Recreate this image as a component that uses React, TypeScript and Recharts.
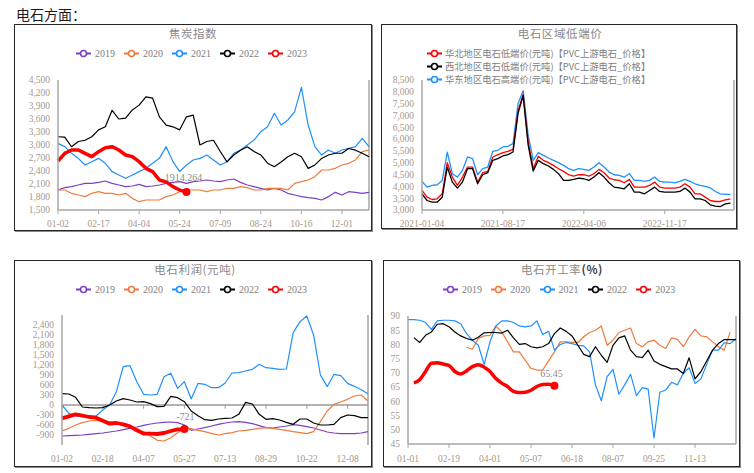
import React from "react";
import { LineChart, Line, XAxis, YAxis, ReferenceLine } from "recharts";

const serif = '"Liberation Serif", "Times New Roman", serif';
const cjk = '"Noto Sans CJK SC", "Noto Sans", sans-serif';
const tickColor = "#a8988a";
const axisColor = "#a6a6a6";
const textGrey = "#808080";

const purple = "#7d3fc4";
const orange = "#ee7b3c";
const blue = "#1e90ff";
const black = "#000000";
const red = "#ff0000";

const years = ["2019", "2020", "2021", "2022", "2023"];
const yearColors = [purple, orange, blue, black, red];

// 焦炭指数
const cokeDates = ["01-02", "02-17", "04-04", "05-24", "07-09", "08-24", "10-16", "12-01"];
const cokeYTicks = [1500, 1800, 2100, 2400, 2700, 3000, 3300, 3600, 3900, 4200, 4500];
const coke2019 = [1962, 2015, 2038, 2077, 2115, 2115, 2138, 2169, 2115, 2077, 2038, 2054, 2092, 2038, 2054, 2077, 2115, 2138, 2154, 2115, 2154, 2169, 2192, 2169, 2154, 2192, 2215, 2138, 2077, 2038, 2000, 1962, 2000, 1962, 1885, 1846, 1808, 1785, 1769, 1731, 1808, 1908, 1846, 1923, 1908, 1885, 1908];
const coke2020 = [1962, 1962, 1885, 1846, 1808, 1885, 1923, 1885, 1885, 1846, 1885, 1769, 1692, 1731, 1731, 1731, 1808, 1846, 1923, 1962, 1962, 1962, 1923, 1962, 1962, 2000, 2000, 2038, 2015, 1962, 1962, 2000, 2000, 2000, 1962, 2115, 2154, 2192, 2269, 2423, 2423, 2462, 2538, 2577, 2654, 2846, 2885];
const coke2021 = [3038, 2962, 2808, 2692, 2538, 2615, 2692, 2577, 2385, 2308, 2231, 2308, 2385, 2462, 2577, 2692, 2962, 2615, 2385, 2538, 2654, 2692, 2769, 2654, 2538, 2615, 2808, 2885, 3000, 3115, 3308, 3423, 3731, 3461, 3577, 3769, 4330, 3461, 2962, 2769, 2885, 2808, 2885, 2923, 2962, 3154, 2962];
const coke2022 = [3190, 3180, 2960, 3080, 3110, 3190, 3350, 3420, 3800, 3600, 3620, 3810, 3920, 4110, 4080, 3650, 3460, 3420, 3350, 3650, 3690, 3000, 3080, 3110, 2850, 2610, 2770, 2880, 2960, 2850, 2770, 2580, 2500, 2610, 2730, 2810, 2730, 2460, 2540, 2690, 2770, 2810, 2810, 2920, 2880, 2810, 2730];
const coke2023 = [2631, 2808, 2885, 2885, 2808, 2731, 2846, 2938, 2962, 2885, 2769, 2731, 2615, 2462, 2385, 2192, 2150, 2040, 1960, 1914.264];

// 电石区域低端价
const priceDates = ["2021-01-04", "2021-08-17", "2022-04-06", "2022-11-17"];
const priceYTicks = [3000, 3500, 4000, 4500, 5000, 5500, 6000, 6500, 7000, 7500, 8000, 8500];
const priceNames = [
  "华北地区电石低端价(元吨)【PVC上游电石_价格】",
  "西北地区电石低端价(元吨)【PVC上游电石_价格】",
  "华东地区电石高端价(元吨)【PVC上游电石_价格】",
];
const priceNorth = [3827, 3543, 3444, 3473, 3685, 5002, 4393, 4039, 4393, 4818, 4818, 4181, 4577, 4634, 5243, 5342, 5427, 5483, 5568, 7200, 7891, 5880, 4750, 5271, 5101, 5002, 4889, 4747, 4634, 4492, 4436, 4492, 4492, 4436, 4535, 4719, 4577, 4351, 4280, 4252, 4152, 4294, 3968, 3968, 3968, 4039, 4181, 3968, 3926, 3926, 3926, 3968, 4110, 3968, 3685, 3685, 3543, 3402, 3360, 3360, 3430, 3473];
const priceNorthwest = [3685, 3402, 3331, 3331, 3543, 4818, 4181, 3926, 4181, 4747, 4747, 4110, 4492, 4577, 5101, 5172, 5285, 5342, 5455, 7100, 7834, 5738, 4650, 5101, 4960, 4860, 4719, 4535, 4252, 4252, 4294, 4351, 4322, 4252, 4393, 4577, 4393, 4152, 3968, 3940, 3898, 4110, 3756, 3756, 3685, 3827, 3968, 3784, 3756, 3756, 3756, 3784, 3926, 3756, 3473, 3473, 3402, 3218, 3161, 3147, 3260, 3289];
const priceEastHigh = [4209, 3968, 4039, 4068, 4252, 5450, 4535, 4393, 4676, 5243, 5172, 4492, 4747, 4818, 5483, 5526, 5668, 5696, 5809, 7500, 8050, 6163, 5100, 5427, 5314, 5200, 5101, 5002, 4889, 4747, 4676, 4747, 4719, 4676, 4818, 5002, 4818, 4605, 4492, 4464, 4393, 4535, 4252, 4252, 4209, 4252, 4393, 4209, 4181, 4181, 4152, 4209, 4294, 4209, 4110, 4039, 3997, 3940, 3784, 3685, 3657, 3657];

// 电石利润(元吨)
const profitDates = ["01-02", "02-18", "04-07", "05-27", "07-13", "08-29", "10-22", "12-08"];
const profitYTicks = [-900, -600, -300, 0, 300, 600, 900, 1200, 1500, 1800, 2100, 2400];
const profit2019 = [-930, -920, -910, -900, -880, -860, -840, -810, -780, -740, -700, -660, -610, -570, -540, -520, -510, -530, -600, -760, -720, -680, -630, -580, -540, -510, -500, -520, -560, -620, -680, -690, -660, -630, -590, -610, -650, -690, -750, -810, -840, -860, -860, -860, -840, -800];
const profit2020 = [-780, -700, -600, -530, -480, -460, -480, -500, -530, -560, -630, -700, -800, -930, -1060, -1080, -980, -830, -700, -710, -760, -800, -860, -900, -860, -830, -780, -760, -730, -700, -680, -700, -730, -760, -800, -830, -860, -800, -500, -180, 20, 90, 170, 270, 300, 120];
const profit2021 = [0, -250, -330, -340, -340, -330, -150, 0, 400, 1150, 1180, 700, 320, 300, 320, 850, 950, 500, 700, 180, 650, 620, 520, 520, 660, 960, 970, 1020, 1070, 1220, 1120, 1100, 1070, 1080, 2170, 2500, 2670, 2100, 900, 550, 920, 880, 650, 560, 460, 340];
const profit2022 = [340, 330, 230, -60, -80, -90, -80, 0, 120, 190, 150, 90, 100, 40, -50, -40, 260, 220, 100, -180, -320, -440, -460, -420, -400, -390, -280, 80, 30, -280, -430, -410, -450, -520, -580, -420, -420, -540, -600, -600, -580, -380, -300, -320, -380, -380];
const profit2023 = [-400, -340, -280, -320, -360, -380, -470, -560, -540, -580, -640, -760, -860, -860, -870, -840, -780, -730, -721];

// 电石开工率(%)
const rateDates = ["01-01", "02-19", "04-01", "05-07", "06-18", "08-07", "09-25", "11-13"];
const rateYTicks = [45, 50, 55, 60, 65, 70, 75, 80, 85, 90];
const rate2020 = [79.0, 78.3, 82.1, 83.0, 83.2, 86.5, 84.4, 80.9, 77.4, 77.4, 74.5, 71.6, 71.0, 71.0, 74.2, 77.4, 80.9, 80.9, 80.7, 80.7, 82.7, 84.2, 85.0, 86.5, 79.7, 81.5, 84.2, 85.0, 85.8, 80.3, 79.2, 80.9, 81.5, 79.7, 78.6, 82.3, 81.8, 79.2, 82.7, 85.3, 83.0, 82.7, 80.9, 79.2, 78.0, 84.4];
const rate2021 = [88.7, 88.7, 88.5, 87.7, 85.3, 88.3, 88.5, 88.5, 88.3, 87.3, 83.8, 81.5, 79.7, 73.0, 80.9, 86.5, 88.3, 88.3, 87.7, 86.5, 86.2, 86.5, 88.3, 83.5, 84.6, 78.0, 80.0, 80.7, 80.3, 79.7, 79.5, 77.4, 65.8, 60.2, 68.7, 71.2, 62.5, 65.8, 69.5, 62.0, 64.8, 64.3, 47.1, 63.2, 64.0, 66.7, 65.8, 69.8, 71.8, 66.3, 67.9, 73.0, 78.0, 78.0, 80.6, 80.3, 82.1];
const rate2022 = [82.4, 80.7, 83.2, 84.4, 87.1, 87.3, 86.2, 84.4, 83.0, 82.1, 81.5, 82.5, 84.1, 84.2, 84.2, 84.0, 85.0, 82.3, 80.0, 80.3, 79.2, 78.8, 79.2, 80.3, 83.8, 85.8, 84.6, 83.0, 79.7, 76.5, 75.7, 79.2, 76.2, 73.7, 79.7, 82.3, 83.0, 78.0, 75.7, 75.4, 78.0, 74.2, 73.0, 72.2, 71.4, 71.4, 69.8, 75.3, 67.9, 70.4, 74.2, 78.0, 80.3, 81.7, 81.7, 81.7];
const rate2023 = [66.5, 67.6, 70.5, 73.4, 73.6, 73.1, 72.6, 70.5, 69.6, 70.7, 72.2, 72.9, 72.0, 70.5, 68.0, 66.4, 65.2, 63.5, 63.1, 63.2, 63.9, 65.2, 65.9, 66.0, 65.45];

type Col = { key: string; values: number[]; start?: number };

function buildRows(len: number, cols: Col[]) {
  return Array.from({ length: len }, (_, i) => {
    const row: Record<string, number | null> = { i };
    cols.forEach((c) => {
      const k = i - (c.start ?? 0);
      row[c.key] = k >= 0 && k < c.values.length ? c.values[k] : null;
    });
    return row;
  });
}

const cokeRows = buildRows(47, [
  { key: "y2019", values: coke2019 },
  { key: "y2020", values: coke2020 },
  { key: "y2021", values: coke2021 },
  { key: "y2022", values: coke2022 },
  { key: "y2023", values: coke2023 },
]);
const priceRows = buildRows(62, [
  { key: "north", values: priceNorth },
  { key: "northwest", values: priceNorthwest },
  { key: "east", values: priceEastHigh },
]);
const profitRows = buildRows(46, [
  { key: "y2019", values: profit2019 },
  { key: "y2020", values: profit2020 },
  { key: "y2021", values: profit2021 },
  { key: "y2022", values: profit2022 },
  { key: "y2023", values: profit2023 },
]);
const rateRows = buildRows(57, [
  { key: "y2020", values: rate2020, start: 10 },
  { key: "y2021", values: rate2021 },
  { key: "y2022", values: rate2022, start: 1 },
  { key: "y2023", values: rate2023, start: 1 },
]);

const tickStyle = { fill: tickColor, fontSize: 9.5, fontFamily: serif };
const fmt = (v: number) => v.toLocaleString("en-US");

const endMark = (last: number, key: string, dx: number, dy: number) => (p: any) => {
  if (p.index !== last || p.cx == null) return <g key={`m${p.index}`} />;
  return (
    <g key={`m${p.index}`}>
      <circle cx={p.cx} cy={p.cy} r={4} fill={red} />
      <text x={p.cx + dx} y={p.cy + dy} textAnchor="middle" fontSize={10} fill="#8c8c8c" fontFamily={serif}>
        {String(p.payload?.[key])}
      </text>
    </g>
  );
};

function Icon({ color }: { color: string }) {
  return (
    <svg width={15} height={9} style={{ display: "block" }}>
      <line x1={0} y1={4.5} x2={15} y2={4.5} stroke={color} strokeWidth={2} />
      <circle cx={7.5} cy={4.5} r={3} fill="#fff" stroke={color} strokeWidth={1.6} />
    </svg>
  );
}

function KeyRow({ labels, colors, left, top, step, gap, font, size }: any) {
  return (
    <>
      {labels.map((label: string, k: number) => (
        <div
          key={label}
          style={{
            position: "absolute",
            left: left + (step ? k * step : 0),
            top: (step ? top : top + k * 13) - 6,
            height: 12,
            display: "flex",
            alignItems: "center",
            whiteSpace: "nowrap",
            fontFamily: font,
            fontSize: size,
            color: textGrey,
          }}
        >
          <Icon color={colors[k]} />
          <span style={{ marginLeft: gap }}>{label}</span>
        </div>
      ))}
    </>
  );
}

function Title({ cx, top, children }: any) {
  return (
    <div
      style={{
        position: "absolute",
        left: cx - 120,
        width: 240,
        top,
        textAlign: "center",
        fontFamily: cjk,
        fontSize: 11.5,
        letterSpacing: 0.6,
        color: "#8a8a8a",
      }}
    >
      {children}
    </div>
  );
}

function Frame({ left, top, width, height }: any) {
  return (
    <div
      style={{
        position: "absolute",
        left,
        top,
        width,
        height,
        boxSizing: "border-box",
        border: "1px solid #262626",
        boxShadow: "1px 1px 0 #8a8a8a",
      }}
    />
  );
}

const yearLine = (key: string, color: string, extra: any = {}) => (
  <Line
    key={key}
    type="linear"
    dataKey={key}
    stroke={color}
    strokeWidth={1.2}
    dot={false}
    isAnimationActive={false}
    strokeLinejoin="round"
    {...extra}
  />
);

export default function App() {
  return (
    <div style={{ position: "absolute", left: 0, top: 0, width: 754, height: 473, background: "#fff", overflow: "hidden" }}>
      <div style={{ position: "absolute", left: 16, top: 4, fontFamily: cjk, fontSize: 14, color: "#1a1a1a" }}>电石方面：</div>

      <Frame left={14} top={24} width={358} height={207} />
      <Frame left={381} top={24} width={356} height={205} />
      <Frame left={14} top={260} width={358} height={207} />
      <Frame left={383} top={260} width={357} height={207} />

      <Title cx={193} top={25}>焦炭指数</Title>
      <Title cx={560} top={25}>电石区域低端价</Title>
      <Title cx={195} top={261}>电石利润(元吨)</Title>
      <Title cx={562} top={261}>
        电石开工率<span style={{ color: "#444", fontWeight: 700 }}>(%)</span>
      </Title>

      <KeyRow labels={years} colors={yearColors} left={76} top={53} step={48} gap={4} font={serif} size={10} />
      <KeyRow labels={priceNames} colors={[red, black, blue]} left={427} top={53} gap={3} font={cjk} size={9.3} />
      <KeyRow labels={years} colors={yearColors} left={76} top={289} step={48} gap={4} font={serif} size={10} />
      <KeyRow labels={years} colors={yearColors} left={443} top={289} step={48.3} gap={4} font={serif} size={10} />

      {/* 焦炭指数 */}
      <div style={{ position: "absolute", left: 14, top: 24 }}>
        <LineChart width={358} height={207} data={cokeRows} margin={{ top: 56, right: 3, bottom: 1, left: 0 }}>
          <XAxis
            dataKey="i"
            type="number"
            domain={[0, 46]}
            ticks={cokeDates.map((_, k) => k * 6)}
            tickFormatter={(v: number) => cokeDates[v / 6] ?? ""}
            interval={0}
            height={20}
            axisLine={{ stroke: axisColor, strokeWidth: 1.5 }}
            tickLine={{ stroke: axisColor }}
            tickSize={4}
            tickMargin={6}
            tick={tickStyle}
          />
          <YAxis
            type="number"
            domain={[1500, 4500]}
            ticks={cokeYTicks}
            interval={0}
            width={44}
            axisLine={{ stroke: axisColor, strokeWidth: 1.5 }}
            tickLine={false}
            tick={tickStyle}
            tickFormatter={fmt}
          />
          <ReferenceLine x={46} stroke={axisColor} strokeWidth={1.5} />
          {yearLine("y2019", purple)}
          {yearLine("y2020", orange)}
          {yearLine("y2021", blue)}
          {yearLine("y2022", black)}
          {yearLine("y2023", red, { strokeWidth: 3.5, dot: endMark(coke2023.length - 1, "y2023", -3, -11) })}
        </LineChart>
      </div>

      {/* 电石区域低端价 */}
      <div style={{ position: "absolute", left: 381, top: 24 }}>
        <LineChart width={356} height={205} data={priceRows} margin={{ top: 56, right: 3, bottom: 0, left: 0 }}>
          <XAxis
            dataKey="i"
            type="number"
            domain={[0, 61.7]}
            ticks={priceDates.map((_, k) => k * 16)}
            tickFormatter={(v: number) => priceDates[v / 16] ?? ""}
            interval={0}
            height={19}
            axisLine={{ stroke: axisColor, strokeWidth: 1.5 }}
            tickLine={{ stroke: axisColor }}
            tickSize={4}
            tickMargin={6}
            tick={tickStyle}
          />
          <YAxis
            type="number"
            domain={[3000, 8500]}
            ticks={priceYTicks}
            interval={0}
            width={41}
            axisLine={{ stroke: axisColor, strokeWidth: 1.5 }}
            tickLine={false}
            tick={tickStyle}
            tickFormatter={fmt}
          />
          <ReferenceLine x={61.7} stroke={axisColor} strokeWidth={1.5} />
          {yearLine("east", blue, { strokeWidth: 1.3 })}
          {yearLine("north", red, { strokeWidth: 1.3 })}
          {yearLine("northwest", black, { strokeWidth: 1.3 })}
        </LineChart>
      </div>

      {/* 电石利润 */}
      <div style={{ position: "absolute", left: 14, top: 260 }}>
        <LineChart width={358} height={207} data={profitRows} margin={{ top: 55, right: 4, bottom: 1, left: 0 }}>
          <XAxis
            dataKey="i"
            type="number"
            domain={[0, 45]}
            ticks={profitDates.map((_, k) => k * 6)}
            tickFormatter={(v: number) => profitDates[v / 6] ?? ""}
            interval={0}
            height={21}
            axisLine={false}
            tickLine={false}
            tickSize={4}
            tickMargin={6}
            tick={tickStyle}
          />
          <YAxis
            type="number"
            domain={[-1200, 2700]}
            ticks={profitYTicks}
            interval={0}
            width={48}
            axisLine={{ stroke: axisColor, strokeWidth: 1.5 }}
            tickLine={false}
            tick={tickStyle}
            tickFormatter={fmt}
          />
          <ReferenceLine x={45} stroke={axisColor} strokeWidth={1.5} />
          <ReferenceLine y={0} stroke="#999" strokeWidth={1.5} />
          {profitDates.map((_, k) => (
            <ReferenceLine
              key={`zt${k}`}
              segment={[
                { x: k * 6, y: 0 },
                { x: k * 6, y: -110 },
              ]}
              stroke="#999"
            />
          ))}
          {yearLine("y2019", purple)}
          {yearLine("y2020", orange)}
          {yearLine("y2021", blue)}
          {yearLine("y2022", black)}
          {yearLine("y2023", red, { strokeWidth: 3.8, dot: endMark(profit2023.length - 1, "y2023", 1, -9) })}
        </LineChart>
      </div>

      {/* 电石开工率 */}
      <div style={{ position: "absolute", left: 383, top: 260 }}>
        <LineChart width={357} height={207} data={rateRows} margin={{ top: 56, right: 4, bottom: 1, left: 0 }}>
          <XAxis
            dataKey="i"
            type="number"
            domain={[0, 56]}
            ticks={rateDates.map((_, k) => k * 7)}
            tickFormatter={(v: number) => rateDates[v / 7] ?? ""}
            interval={0}
            height={22}
            axisLine={{ stroke: axisColor, strokeWidth: 1.5 }}
            tickLine={{ stroke: axisColor }}
            tickSize={4}
            tickMargin={7}
            tick={tickStyle}
          />
          <YAxis
            type="number"
            domain={[45, 90]}
            ticks={rateYTicks}
            interval={0}
            width={25}
            axisLine={{ stroke: axisColor, strokeWidth: 1.5 }}
            tickLine={false}
            tick={tickStyle}
          />
          <ReferenceLine x={56} stroke={axisColor} strokeWidth={1.5} />
          {yearLine("y2020", orange)}
          {yearLine("y2021", blue)}
          {yearLine("y2022", black)}
          {yearLine("y2023", red, {
            type: "monotone",
            strokeWidth: 3.5,
            dot: endMark(rate2023.length, "y2023", -3, -9),
          })}
        </LineChart>
      </div>
    </div>
  );
}
